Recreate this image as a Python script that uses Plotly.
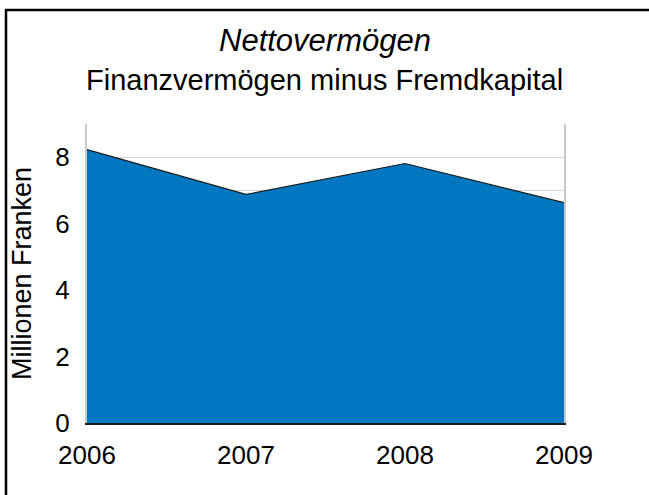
import plotly.graph_objects as go

years = ["2006", "2007", "2008", "2009"]
net_assets = [8.23, 6.88, 7.81, 6.63]
y_ticks = [0, 2, 4, 6, 8]

title_text = "Nettovermögen"
subtitle_text = "Finanzvermögen minus Fremdkapital"
y_title = "Millionen Franken"

W, H = 649, 495
L, R, T, B = 87, 85, 124, 72
pw, ph = W - L - R, H - T - B

def px_x(p):
    return (p - L) / pw

def px_y(p):
    return (H - B - p) / ph

fig = go.Figure()
fig.add_trace(go.Scatter(
    x=years, y=net_assets, mode="lines", fill="tozeroy",
    fillcolor="#0077C0", line=dict(color="#1a1a1a", width=1.2),
    hoverinfo="x+y", showlegend=False,
))

font = "Liberation Sans, Arial, sans-serif"

fig.update_layout(
    width=W, height=H,
    margin=dict(l=L, r=R, t=T, b=B),
    paper_bgcolor="white", plot_bgcolor="white",
    font=dict(family=font, color="black"),
    xaxis=dict(
        type="category", range=[0, 3],
        showgrid=False, zeroline=False,
        showline=True, linecolor="#1a1a1a", linewidth=2,
        mirror=False,
        tickfont=dict(size=26, family=font, color="black"),
        ticks="", ticklabelstandoff=8,
    ),
    yaxis=dict(
        range=[0, 9], tickvals=y_ticks,
        showgrid=True, gridcolor="#d4d4d4", gridwidth=1,
        minor=dict(dtick=1, showgrid=True, gridcolor="#d4d4d4", gridwidth=1),
        zeroline=False,
        showline=True, linecolor="#c8c8c8", linewidth=2, mirror=True,
        tickfont=dict(size=26, family=font, color="black"),
        ticks="", ticklabelstandoff=10,
        title=dict(text=y_title, font=dict(size=27, family=font, color="black"), standoff=16),
    ),
)

fig.add_annotation(
    text=title_text, xref="paper", yref="paper",
    x=px_x(W / 2), y=px_y(41), xanchor="center", yanchor="middle",
    showarrow=False, font=dict(size=31, family=font, color="black", style="italic"),
)
fig.add_annotation(
    text=subtitle_text, xref="paper", yref="paper",
    x=px_x(W / 2), y=px_y(80), xanchor="center", yanchor="middle",
    showarrow=False, font=dict(size=29, family=font, color="black"),
)

# outer frame: only top and left edges fall inside the picture
fig.add_shape(
    type="line", xref="paper", yref="paper",
    x0=px_x(5), x1=px_x(W), y0=px_y(10), y1=px_y(10),
    line=dict(color="black", width=2.5), layer="above",
)
fig.add_shape(
    type="line", xref="paper", yref="paper",
    x0=px_x(6), x1=px_x(6), y0=px_y(9), y1=px_y(H),
    line=dict(color="black", width=2.5), layer="above",
)

fig.write_html(
    "out.html",
    config={"displayModeBar": False, "responsive": False},
    post_script="document.documentElement.style.margin='0';document.documentElement.style.overflow='hidden';document.body.style.margin='0';document.body.style.padding='0';document.body.style.overflow='hidden';",
)
